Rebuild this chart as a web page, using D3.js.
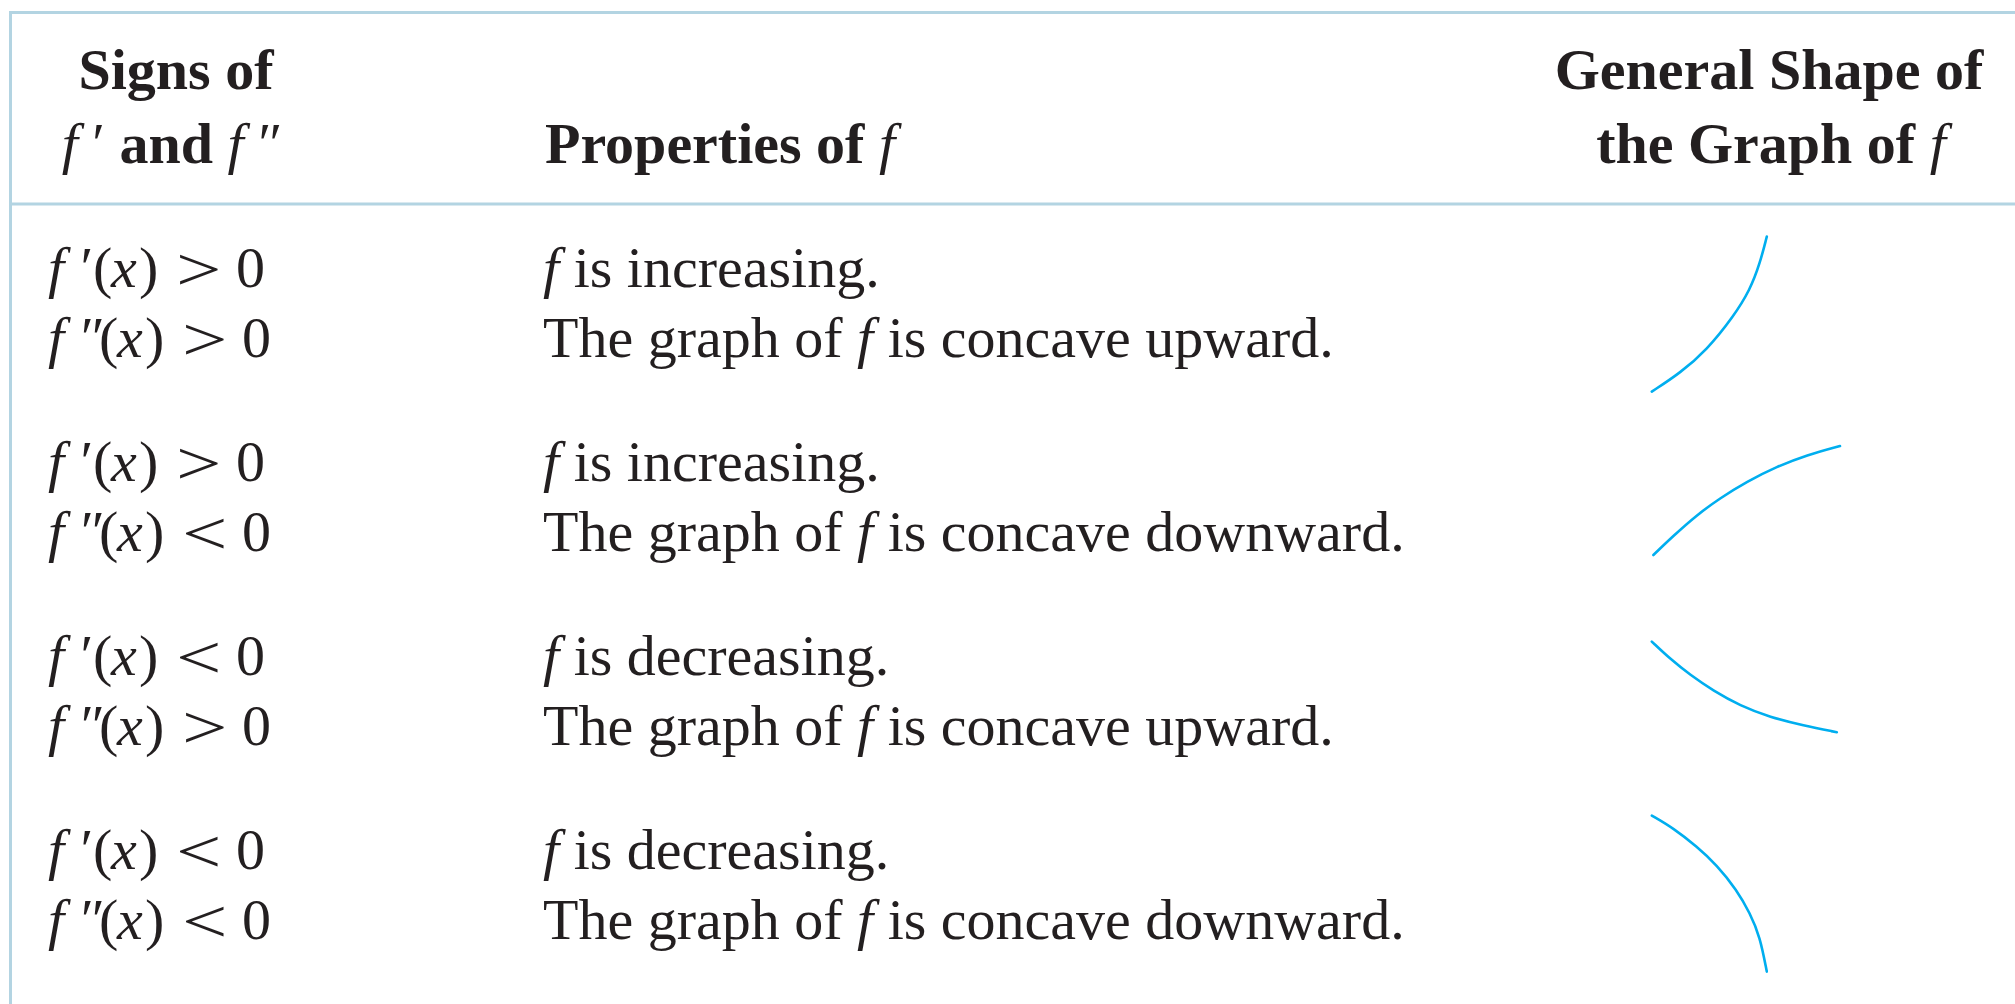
<!DOCTYPE html>
<html>
<head>
<meta charset="utf-8">
<script src="https://cdn.jsdelivr.net/npm/d3@7"></script>
<style>
  html, body { margin: 0; padding: 0; background: #ffffff; }
  svg { display: block; }
  text { font-family: "Liberation Serif", "Times New Roman", serif; fill: #231f20; }
</style>
</head>
<body>
<svg id="chart" width="2015" height="1004"></svg>
<script>
// ---------------- data ----------------
const headerLeft = ["Signs of", "and"];
const headerMiddle = "Properties of ";
const headerRight = ["General Shape of", "the Graph of "];
const firstDerivSign = [">", ">", "<", "<"];
const secondDerivSign = [">", "<", ">", "<"];
const monotonicity = ["increasing", "increasing", "decreasing", "decreasing"];
const concavity = ["upward", "downward", "upward", "downward"];

// curve samples, in a 0..100 shape box (y up)
const shapeIncUp = [[0.9, 9.7], [15, 18.9], [28.4, 30.5], [41.7, 47.2], [50, 60.5], [55, 73.9], [58.4, 87.2]];
const shapeIncDown = [[1.7, 25], [11.7, 34.6], [23.4, 45], [35, 53.4], [48.4, 61.7], [63.4, 69.2], [78.4, 75], [95, 79.5]];
const shapeDecUp = [[0.9, 78.7], [10, 70.1], [20, 62.1], [31.7, 54.1], [45, 46.7], [60, 40.9], [76.7, 36.7], [93.4, 33.4]];
const shapeDecDown = [[0.9, 88.7], [11.7, 82.4], [23.4, 73.2], [33.4, 64], [43.4, 51.5], [50, 39.9], [55, 28.2], [58.4, 10.7]];
const shapes = [shapeIncUp, shapeIncDown, shapeDecUp, shapeDecDown];

// ---------------- layout ----------------
const svg = d3.select("#chart");
const W = 2015, H = 1004;
const lineColor = "#b3d4e2";
const curveColor = "#00aeef";
const FS = 58;

// borders
svg.append("line").attr("x1", 10).attr("x2", W).attr("y1", 12.5).attr("y2", 12.5)
  .attr("stroke", lineColor).attr("stroke-width", 3);
svg.append("line").attr("x1", 10).attr("x2", W).attr("y1", 204).attr("y2", 204)
  .attr("stroke", lineColor).attr("stroke-width", 3);
svg.append("line").attr("x1", 10.5).attr("x2", 10.5).attr("y1", 11).attr("y2", H)
  .attr("stroke", lineColor).attr("stroke-width", 3);

// header
const hdr = svg.append("g").attr("font-weight", "bold").attr("font-size", FS);
hdr.append("text").attr("x", 176).attr("y", 89).attr("text-anchor", "middle").text(headerLeft[0]);
const h2 = hdr.append("text").attr("x", 172).attr("y", 163).attr("text-anchor", "middle");
h2.append("tspan").attr("font-style", "italic").attr("font-weight", "normal").text("f");
h2.append("tspan").attr("font-weight", "normal").text(" ′ ");
h2.append("tspan").text(headerLeft[1] + " ");
h2.append("tspan").attr("font-style", "italic").attr("font-weight", "normal").text("f");
h2.append("tspan").attr("font-weight", "normal").text(" ″");

const hm = hdr.append("text").attr("x", 545).attr("y", 163);
hm.append("tspan").text(headerMiddle);
hm.append("tspan").attr("font-style", "italic").attr("font-weight", "normal").text("f");

hdr.append("text").attr("x", 1769).attr("y", 89).attr("text-anchor", "middle").text(headerRight[0]);
const hr = hdr.append("text").attr("x", 1771).attr("y", 163).attr("text-anchor", "middle");
hr.append("tspan").text(headerRight[1]);
hr.append("tspan").attr("font-style", "italic").attr("font-weight", "normal").text("f");

// rows
const rowBase = d3.scaleLinear().domain([0, 1]).range([287.3, 481.3]);
const lineGap = 70;

function mathLine(g, y, primes, sign, off) {
  const t = g.append("text").attr("y", y).attr("font-size", FS);
  t.append("tspan").attr("x", 48).attr("font-style", "italic").text("f");
  t.append("tspan").attr("x", 77).attr("font-style", "italic").text(primes);
  t.append("tspan").attr("x", 93 + off).text("(");
  t.append("tspan").attr("x", 111 + off).attr("font-style", "italic").text("x");
  t.append("tspan").attr("x", 139 + off).text(")");
  g.append("text").attr("font-size", 62)
    .attr("transform", `translate(${176 + off},${y + 3}) scale(1.3,1)`)
    .text(sign);
  g.append("text").attr("x", 236 + off).attr("y", y).attr("font-size", FS).text("0");
}

const xS = d3.scaleLinear().domain([0, 100]).range([1650, 1850]);

firstDerivSign.forEach((s, i) => {
  const g = svg.append("g");
  const b = rowBase(i);
  mathLine(g, b, "′", s, 0);
  mathLine(g, b + lineGap, "″", secondDerivSign[i], 6);

  const p1 = g.append("text").attr("x", 543).attr("y", b).attr("font-size", FS);
  p1.append("tspan").attr("font-style", "italic").text("f");
  p1.append("tspan").text(" is " + monotonicity[i] + ".");
  const p2 = g.append("text").attr("x", 543).attr("y", b + lineGap).attr("font-size", FS);
  p2.append("tspan").text("The graph of ");
  p2.append("tspan").attr("font-style", "italic").text("f");
  p2.append("tspan").text(" is concave " + concavity[i] + ".");

  const c = 311 + (rowBase(i) - rowBase(0));
  const yS = d3.scaleLinear().domain([0, 100]).range([c + 100, c - 100]);
  const line = d3.line().x(d => xS(d[0])).y(d => yS(d[1])).curve(d3.curveBasis);
  g.append("path").attr("d", line(shapes[i]))
    .attr("fill", "none").attr("stroke", curveColor).attr("stroke-width", 2.6)
    .attr("stroke-linecap", "round");
});
</script>
</body>
</html>
